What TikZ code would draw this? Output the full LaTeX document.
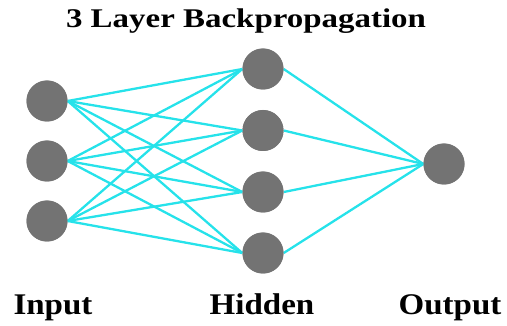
\documentclass[tikz,border=0pt]{standalone}
\usepackage{fontspec}
\setmainfont{Liberation Serif}
\definecolor{nodegray}{RGB}{115,115,115}
\definecolor{linkcyan}{RGB}{38,226,234}
\begin{document}
\begin{tikzpicture}[x=1pt,y=-1pt,
  neuron/.style={circle,fill=nodegray,minimum size=41pt,inner sep=0pt},
  link/.style={draw=linkcyan,line width=2.3pt},
  label/.style={font=\bfseries\fontsize{30}{30}\selectfont,inner sep=0pt,anchor=base,xscale=1.1},
  titletext/.style={font=\bfseries\fontsize{27}{27}\selectfont,inner sep=0pt,anchor=base,xscale=1.22}]
\useasboundingbox (0,0) rectangle (507,326);
\node[neuron] (i1) at (47,101) {};
\node[neuron] (i2) at (47,161) {};
\node[neuron] (i3) at (47,221) {};
\node[neuron] (h1) at (263,69) {};
\node[neuron] (h2) at (263,130.5) {};
\node[neuron] (h3) at (263,192) {};
\node[neuron] (h4) at (263,253) {};
\node[neuron] (o1) at (444,164) {};
\foreach \i in {1,2,3}{
  \foreach \h in {1,2,3,4}{
    \draw[link] (i\i.east) -- (h\h.west);
  }
}
\foreach \h in {1,2,3,4}{
  \draw[link] (h\h.east) -- (o1.west);
}
\foreach \n in {i1,i2,i3,h1,h2,h3,h4,o1}{
  \node[neuron] at (\n) {};
}
\node[titletext] (title) at (246,28) {3 Layer Backpropagation};
\node[label] (lin) at (53,315) {Input};
\node[label] (lhid) at (262,315) {Hidden};
\node[label] (lout) at (450,315) {Output};
\end{tikzpicture}
\end{document}
